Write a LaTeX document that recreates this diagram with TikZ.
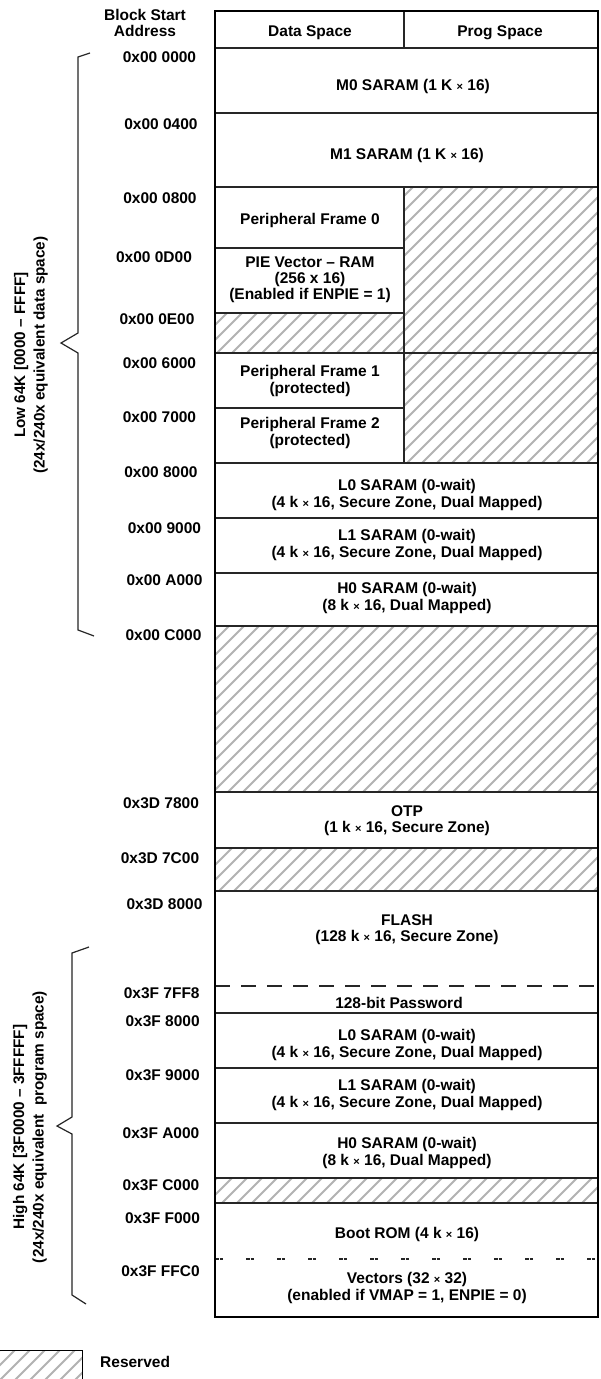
\documentclass[tikz,border=0pt]{standalone}
\usepackage{fontspec}
\setmainfont{Liberation Sans}
\newcommand\mul{{\fontsize{11}{11}\selectfont ×}}
\newcommand\hatchbox[4]{%
  \begin{scope}
    \clip (#1,#2) rectangle (#3,#4);
    \pgfmathtruncatemacro\kA{(#1+#2)/15-1}
    \pgfmathtruncatemacro\kB{(#3+#4)/15+1}
    \foreach \k in {\kA,...,\kB}{
      \draw[hatchline] ({15*\k-#4},#4) -- ({15*\k-#2},#2);
    }
  \end{scope}}
\begin{document}
\begin{tikzpicture}[x=1pt,y=-1pt,
  txt/.style={font=\bfseries\fontsize{15.5}{16.2}\selectfont, align=center, inner sep=0pt},
  addr/.style={txt},
  side/.style={txt, rotate=90, font=\bfseries\fontsize{15.3}{19.5}\selectfont},
  sep/.style={line width=1.3pt, draw=black!85},
  outerbox/.style={line width=2.7pt, draw=black},
  hatchline/.style={line width=1.8pt, draw=black!30},
  longdash/.style={line width=1.3pt, draw=black!85, dash pattern=on 15pt off 11pt},
  shortdash/.style={line width=1.3pt, draw=black!85, dash pattern=on 3.5pt off 1.2pt on 3.5pt off 22.8pt},
  brace/.style={line width=1.2pt, draw=black!85}]
\clip (0,0) rectangle (600,1379);
\fill[white] (0,0) rectangle (600,1379);

% reserved (hatched) areas
\hatchbox{404}{187}{598}{353}
\hatchbox{404}{353}{598}{463}
\hatchbox{215}{313}{404}{353}
\hatchbox{215}{626}{598}{792}
\hatchbox{215}{848}{598}{891}
\hatchbox{215}{1178}{598}{1203}
\hatchbox{-5}{1350}{82}{1385}

% separators
\foreach \yy in {48,113,187,353,463,518,573,626,792,848,891,1013,1068,1123,1178,1203}
  \draw[sep] (215,\yy) -- (598,\yy);
\foreach \yy in {248,313,408}
  \draw[sep] (215,\yy) -- (404,\yy);
\draw[sep] (404,11) -- (404,48);
\draw[sep] (404,187) -- (404,463);
\draw[longdash] (215,986) -- (598,986);
\draw[shortdash] (215,1259) -- (598,1259);
\draw[outerbox] (215,11) rectangle (598,1317);
\draw[line width=1pt] (-5,1350) rectangle (82,1385);

% header texts
\node[txt] (blockstart) at (145,23) {Block Start\\Address};
\node[txt] (dataspace) at (310,33) {Data Space};
\node[txt] (progspace) at (500,33) {Prog Space};

% block texts
\node[txt] (m0) at (413,86) {M0 SARAM (1 K \mul{} 16)};
\node[txt] (m1) at (407,155) {M1 SARAM (1 K \mul{} 16)};
\node[txt] (pf0) at (310,220) {Peripheral Frame 0};
\node[txt] (pie) at (310,280) {PIE Vector – RAM\\(256 x 16)\\(Enabled if ENPIE = 1)};
\node[txt] (pf1) at (310,381) {Peripheral Frame 1\\(protected)};
\node[txt] (pf2) at (310,433) {Peripheral Frame 2\\(protected)};
\node[txt] (l0) at (407,495) {L0 SARAM (0-wait)\\(4 k \mul{} 16, Secure Zone, Dual Mapped)};
\node[txt] (l1) at (407,545) {L1 SARAM (0-wait)\\(4 k \mul{} 16, Secure Zone, Dual Mapped)};
\node[txt] (h0) at (407,598) {H0 SARAM (0-wait)\\(8 k \mul{} 16, Dual Mapped)};
\node[txt] (otp) at (407,821) {OTP\\(1 k \mul{} 16, Secure Zone)};
\node[txt] (flash) at (407,930) {FLASH\\(128 k \mul{} 16, Secure Zone)};
\node[txt] (pwd) at (399,1003) {128-bit Password};
\node[txt] (l0b) at (407,1045) {L0 SARAM (0-wait)\\(4 k \mul{} 16, Secure Zone, Dual Mapped)};
\node[txt] (l1b) at (407,1095) {L1 SARAM (0-wait)\\(4 k \mul{} 16, Secure Zone, Dual Mapped)};
\node[txt] (h0b) at (407,1153) {H0 SARAM (0-wait)\\(8 k \mul{} 16, Dual Mapped)};
\node[txt] (boot) at (407,1234) {Boot ROM (4 k \mul{} 16)};
\node[txt] (vec) at (407,1288) {Vectors (32 \mul{} 32)\\(enabled if VMAP = 1, ENPIE = 0)};

% addresses
\node[addr] (a1) at (159.5,57) {0x00 0000};
\node[addr] (a2) at (161,124) {0x00 0400};
\node[addr] (a3) at (160,198) {0x00 0800};
\node[addr] (a4) at (154,257) {0x00 0D00};
\node[addr] (a5) at (157,319) {0x00 0E00};
\node[addr] (a6) at (159.5,363) {0x00 6000};
\node[addr] (a7) at (159.5,417) {0x00 7000};
\node[addr] (a8) at (161,472) {0x00 8000};
\node[addr] (a9) at (164.5,528) {0x00 9000};
\node[addr] (a10) at (164.5,580) {0x00 A000};
\node[addr] (a11) at (163.5,635) {0x00 C000};
\node[addr] (a12) at (161,803) {0x3D 7800};
\node[addr] (a13) at (160,858) {0x3D 7C00};
\node[addr] (a14) at (164.5,904) {0x3D 8000};
\node[addr] (a15) at (161.7,993) {0x3F 7FF8};
\node[addr] (a16) at (162.6,1021) {0x3F 8000};
\node[addr] (a17) at (162.6,1075) {0x3F 9000};
\node[addr] (a18) at (161,1133) {0x3F A000};
\node[addr] (a19) at (161,1185) {0x3F C000};
\node[addr] (a20) at (162.5,1218) {0x3F F000};
\node[addr] (a21) at (160.5,1271) {0x3F FFC0};

% braces
\draw[brace] (90,53) -- (78,57) -- (78,333) -- (61,343) -- (78,353) -- (78,630) -- (94,636);
\draw[brace] (89,947) -- (72,953) -- (72,1117) -- (57,1126) -- (72,1134) -- (72,1295) -- (86,1304);
\node[side] (lowlbl) at (31,355) {Low 64K [0000 – FFFF]\\(24x/240x equivalent data space)};
\node[side] (highlbl) at (30,1127) {High 64K [3F0000 – 3FFFFF]\\(24x/240x equivalent\ \ program space)};

% legend
\node[txt, anchor=west] (reserved) at (100,1362) {Reserved};
\end{tikzpicture}
\end{document}
